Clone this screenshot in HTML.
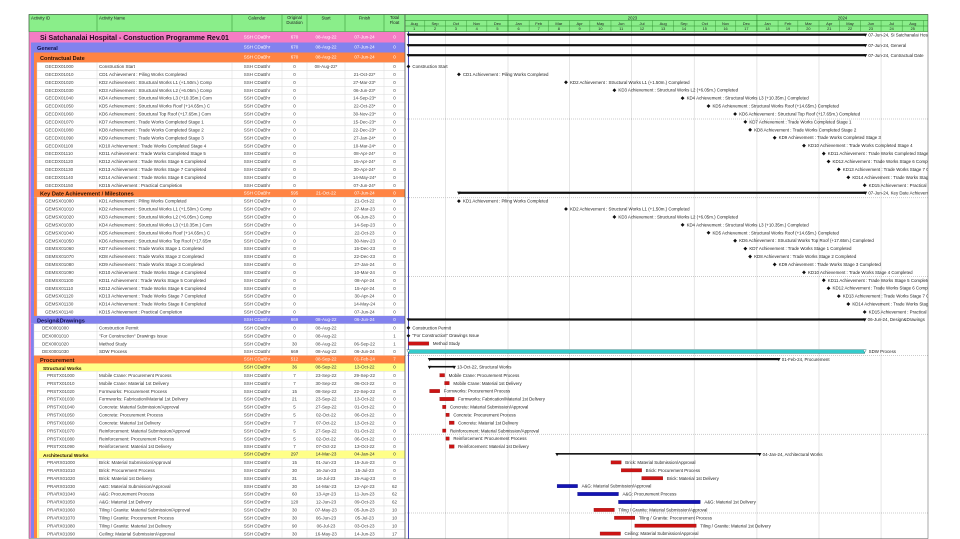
<!DOCTYPE html>
<html><head><meta charset="utf-8"><title>Construction Programme Gantt</title>
<style>
html,body{margin:0;padding:0;background:#fff;}
svg{display:block;font-family:"Liberation Sans",sans-serif;}
</style></head>
<body>
<svg id="chart" width="960" height="539" viewBox="0 0 960 539" xmlns="http://www.w3.org/2000/svg">
<defs><clipPath id="gclip"><rect x="405" y="14" width="523" height="525"/></clipPath></defs>
</svg>
<script>
// ---- data ----
const rowKind = ['T','G','O',
 'M','M','M','M','M','M','M','M','M','M','M','M','M','M','M','M',
 'O','M','M','M','M','M','M','M','M','M','M','M','M','M','M','M',
 'G','M','M','A','S',
 'O','Y','A','A','A','A','A','A','A','A','A','A',
 'Y','A','A','A','A','A','A','A','A','A','A'];
const rowLevel = [0,1,2,
 3,3,3,3,3,3,3,3,3,3,3,3,3,3,3,3,
 2,3,3,3,3,3,3,3,3,3,3,3,3,3,3,3,
 1,2,2,2,2,
 2,3,4,4,4,4,4,4,4,4,4,4,
 3,4,4,4,4,4,4,4,4,4,4];
const rowId = ['','','',
 'GECDX01000','GECDX01010','GECDX01020','GECDX01030','GECDX01040','GECDX01050','GECDX01060','GECDX01070','GECDX01080','GECDX01090','GECDX01100','GECDX01110','GECDX01120','GECDX01130','GECDX01140','GECDX01150',
 '','GEMSX01000','GEMSX01010','GEMSX01020','GEMSX01030','GEMSX01040','GEMSX01050','GEMSX01060','GEMSX01070','GEMSX01080','GEMSX01090','GEMSX01100','GEMSX01110','GEMSX01120','GEMSX01130','GEMSX01140',
 '','DEX0001000','DEX0001010','DEX0001020','DEX0001030',
 '','','PRSTX01000','PRSTX01010','PRSTX01020','PRSTX01030','PRSTX01040','PRSTX01050','PRSTX01060','PRSTX01070','PRSTX01080','PRSTX01090',
 '','PRARX01000','PRARX01010','PRARX01020','PRARX01030','PRARX01040','PRARX01050','PRARX01060','PRARX01070','PRARX01080','PRARX01090'];
const rowName = ['Si Satchanalai Hospital - Constuction Programme Rev.01','General','Contractual Date',
 'Construction Start','CD1 Achievement : Piling Works Completed','KD2 Achievement : Structural Works L1 (+1.50m.) Completed','KD3 Achievement : Structural Works L2 (+6.05m.) Completed','KD4 Achievement : Structural Works L3 (+10.35m.) Completed','KD5 Achievement : Structural Works Roof (+14.65m.) Completed','KD6 Achievement : Structural Top Roof (+17.65m.) Completed','KD7 Achievement : Trade Works Completed Stage 1','KD8 Achievement : Trade Works Completed Stage 2','KD9 Achievement : Trade Works Completed Stage 3','KD10 Achievement : Trade Works Completed Stage 4','KD11 Achievement : Trade Works Completed Stage 5','KD12 Achievement : Trade Works Stage 6 Completed','KD13 Achievement : Trade Works Stage 7 Completed','KD14 Achievement : Trade Works Stage 8 Completed','KD15 Achievement : Practical Completion',
 'Key Date Achievement / Milestones','KD1 Achievement : Piling Works Completed','KD2 Achievement : Structural Works L1 (+1.50m.) Completed','KD3 Achievement : Structural Works L2 (+6.05m.) Completed','KD4 Achievement : Structural Works L3 (+10.35m.) Completed','KD5 Achievement : Structural Works Roof (+14.65m.) Completed','KD6 Achievement : Structural Works Top Roof (+17.65m.) Completed','KD7 Achievement : Trade Works Stage 1 Completed','KD8 Achievement : Trade Works Stage 2 Completed','KD9 Achievement : Trade Works Stage 3 Completed','KD10 Achievement : Trade Works Stage 4 Completed','KD11 Achievement : Trade Works Stage 5 Completed','KD12 Achievement : Trade Works Stage 6 Completed','KD13 Achievement : Trade Works Stage 7 Completed','KD14 Achievement : Trade Works Stage 8 Completed','KD15 Achievement : Practical Completion',
 'Design&Drawings','Construction Permit','"For Construction" Drawings Issue','Method Study','SDW Process',
 'Procurement','Structural Works','Mobile Crane: Procurement Process','Mobile Crane: Material 1st Delivery','Formworks: Procurement Process','Formworks: Fabrication/Material 1st Delivery','Concrete: Material Submission/Approval','Concrete: Procurement Process','Concrete: Material 1st Delivery','Reinforcement: Material Submission/Approval','Reinforcement: Procurement Process','Reinforcement: Material 1st Delivery',
 'Architectural Works','Brick: Material Submission/Approval','Brick: Procurement Process','Brick: Material 1st Delivery','A&G: Material Submission/Approval','A&G: Procurement Process','A&G: Material 1st Delivery','Tiling / Granite: Material Submission/Approval','Tiling / Granite: Procurement Process','Tiling / Granite:  Material 1st Delivery','Ceiling: Material Submission/Approval'];
const rowDur = ['670','670','670',
 '0','0','0','0','0','0','0','0','0','0','0','0','0','0','0','0',
 '595','0','0','0','0','0','0','0','0','0','0','0','0','0','0','0',
 '669','0','0','30','669',
 '512','36','7','7','15','21','5','5','7','5','5','7',
 '297','15','30','31','30','60','120','30','30','90','30'];
const rowStart = ['08-Aug-22','08-Aug-22','08-Aug-22',
 '08-Aug-22*','','','','','','','','','','','','','','','',
 '21-Oct-22','','','','','','','','','','','','','','','',
 '08-Aug-22','08-Aug-22','08-Aug-22','08-Aug-22','08-Aug-22',
 '08-Sep-22','08-Sep-22','23-Sep-22','30-Sep-22','08-Sep-22','23-Sep-22','27-Sep-22','02-Oct-22','07-Oct-22','27-Sep-22','02-Oct-22','07-Oct-22',
 '14-Mar-23','01-Jun-23','16-Jun-23','16-Jul-23','14-Mar-23','13-Apr-23','12-Jun-23','07-May-23','06-Jun-23','06-Jul-23','16-May-23'];
const rowFinish = ['07-Jun-24','07-Jun-24','07-Jun-24',
 '','21-Oct-22*','27-Mar-23*','06-Jun-23*','14-Sep-23*','22-Oct-23*','30-Nov-23*','15-Dec-23*','22-Dec-23*','27-Jan-24*','10-Mar-24*','08-Apr-24*','15-Apr-24*','30-Apr-24*','14-May-24*','07-Jun-24*',
 '07-Jun-24','21-Oct-22','27-Mar-23','06-Jun-23','14-Sep-23','22-Oct-23','30-Nov-23','15-Dec-23','22-Dec-23','27-Jan-24','10-Mar-24','08-Apr-24','15-Apr-24','30-Apr-24','14-May-24','07-Jun-24',
 '06-Jun-24','','','06-Sep-22','06-Jun-24',
 '01-Feb-24','13-Oct-22','29-Sep-22','06-Oct-22','22-Sep-22','13-Oct-22','01-Oct-22','06-Oct-22','13-Oct-22','01-Oct-22','06-Oct-22','13-Oct-22',
 '04-Jan-24','15-Jun-23','15-Jul-23','15-Aug-23','12-Apr-23','11-Jun-23','09-Oct-23','05-Jun-23','05-Jul-23','03-Oct-23','14-Jun-23'];
const rowFloat = ['0','0','0',
 '0','0','0','0','0','0','0','0','0','0','0','0','0','0','0','0',
 '0','0','0','0','0','0','0','0','0','0','0','0','0','0','0','0',
 '0','0','1','1','0',
 '7','0','0','0','0','0','0','0','0','0','0','0',
 '0','0','0','0','62','62','62','10','10','10','17'];
const monthNames = ['Aug','Sep','Oct','Nov','Dec','Jan','Feb','Mar','Apr','May','Jun','Jul','Aug','Sep','Oct','Nov','Dec','Jan','Feb','Mar','Apr','May','Jun','Jul','Aug','Sep'];
const yearLabels = ['2023','2024'];

// ---- geometry helpers ----
const svg = document.getElementById('chart');
const NS = 'http://www.w3.org/2000/svg';
const MON = {Jan:0,Feb:1,Mar:2,Apr:3,May:4,Jun:5,Jul:6,Aug:7,Sep:8,Oct:9,Nov:10,Dec:11};
const T0 = Date.UTC(2023,0,1);
function parseD(s){ s=s.replace('*',''); const p=s.split('-'); return Date.UTC(2000+ +p[2], MON[p[1]], +p[0]); }
function xD(ms){ return 508 + (ms - T0)/86400000*0.682; }
function rowTop(i){ if(i===0) return 32; if(i===1) return 42.5; if(i===2) return 52.5; return 62.5+(i-3)*7.92; }
function rowH(i){ if(i===0) return 10.5; if(i<3) return 10; return 7.92; }
function el(tag, attrs, parent){ const e=document.createElementNS(NS,tag); for(const k in attrs) e.setAttribute(k,attrs[k]); (parent||svg).appendChild(e); return e; }
function txt(x,y,s,attrs,parent){ const e=el('text',Object.assign({x:x,y:y},attrs),parent); e.textContent=s; return e; }

const COL = {T:'#f47cc4',G:'#8282ee',O:'#ff8444',Y:'#ffff88'};
const stripeCols = ['#f47cc4','#8282ee','#ff8444','#ffff88'];
const stripeX = [29,31,34,37,39];

// ---- table header ----
const hdr = el('g',{});


el('rect',{x:29,y:14.5,width:376,height:17,fill:'#8aee8a',stroke:'#2a8a2a','stroke-width':0.6},hdr);
const colLines = [97,232,282,307,345,384];
colLines.forEach(function(cx){ el('line',{x1:cx,y1:14.5,x2:cx,y2:31.5,stroke:'#2a8a2a','stroke-width':0.5},hdr); });
const hs = {'font-size':4.3,fill:'#222'};
txt(31,19.5,'Activity ID',hs,hdr);
txt(99,19.5,'Activity Name',hs,hdr);
txt(257,19.5,'Calendar',Object.assign({'text-anchor':'middle'},hs),hdr);
txt(294.5,19,'Original',Object.assign({'text-anchor':'middle'},hs),hdr);
txt(294.5,24,'Duration',Object.assign({'text-anchor':'middle'},hs),hdr);
txt(326,19.5,'Start',Object.assign({'text-anchor':'middle'},hs),hdr);
txt(364.5,19.5,'Finish',Object.assign({'text-anchor':'middle'},hs),hdr);
txt(394.5,19,'Total',Object.assign({'text-anchor':'middle'},hs),hdr);
txt(394.5,24,'Float',Object.assign({'text-anchor':'middle'},hs),hdr);

// ---- table rows ----
const tbl = el('g',{});


for(let i=0;i<rowKind.length;i++){
  const k=rowKind[i], lv=rowLevel[i], y=rowTop(i), h=rowH(i), cy=y+h/2+1.6;
  const g=el('g',{},tbl);
  
  
  for(let s=0;s<lv;s++){ el('rect',{x:stripeX[s],y:y,width:stripeX[s+1]-stripeX[s],height:h+0.3,fill:stripeCols[s]},g); }
  const sx=stripeX[lv];
  const isSec = (k==='T'||k==='G'||k==='O'||k==='Y');
  el('rect',{x:sx,y:y,width:405-sx,height:h,fill:isSec?COL[k]:'#fff',stroke:isSec?'none':'#d4d4d4','stroke-width':0.4},g);
  if(!isSec){ colLines.forEach(function(cx){ el('line',{x1:cx,y1:y,x2:cx,y2:y+h,stroke:'#d4d4d4','stroke-width':0.4},g); }); }
  let nameFill='#333', valFill='#444';
  if(isSec){ valFill = (k==='Y')?'#333':'#fff'; nameFill = (k==='G')?'#10104a':(k==='T'?'#2a0a20':'#2a1000'); }
  if(k==='T') txt(40,y+8,rowName[i],{'font-size':7,'font-weight':'bold',fill:nameFill},g);
  else if(isSec) txt(sx+6,cy+0.8,rowName[i],{'font-size':k==='Y'?4.8:5.6,'font-weight':'bold',fill:nameFill},g);
  else { txt(sx+8,cy,rowId[i],{'font-size':4.5,fill:'#444'},g); txt(99,cy,rowName[i].length>52?rowName[i].slice(0,52):rowName[i],{'font-size':4.5,fill:'#333'},g); }
  const vy = isSec ? y+h/2+1.2 : cy;
  txt(257,vy,'SSH CDaBhr',{'font-size':4.5,'text-anchor':'middle',fill:valFill},g);
  txt(294.5,vy,rowDur[i],{'font-size':4.5,'text-anchor':'middle',fill:valFill},g);
  txt(326,vy,rowStart[i],{'font-size':4.5,'text-anchor':'middle',fill:valFill},g);
  txt(364.5,vy,rowFinish[i],{'font-size':4.5,'text-anchor':'middle',fill:valFill},g);
  txt(394.5,vy,rowFloat[i],{'font-size':4.5,'text-anchor':'middle',fill:valFill},g);
}
el('rect',{x:29,y:14.5,width:376,height:524,fill:'none',stroke:'#555','stroke-width':0.5});

// ---- timeline header ----
const th = el('g',{'clip-path':'url(#gclip)'});


el('rect',{x:405,y:14.5,width:523,height:17,fill:'#8aee8a',stroke:'#2a8a2a','stroke-width':0.6},th);
el('line',{x1:405,y1:20.5,x2:928,y2:20.5,stroke:'#2a8a2a','stroke-width':0.5},th);
el('line',{x1:405,y1:26,x2:928,y2:26,stroke:'#2a8a2a','stroke-width':0.5},th);
for(let m=0;m<monthNames.length;m++){
  const a=xD(Date.UTC(2022,7+m,1)), b=xD(Date.UTC(2022,8+m,1));
  el('line',{x1:a,y1:20.5,x2:a,y2:31.5,stroke:'#2a8a2a','stroke-width':0.4},th);
  const t1=txt((a+b)/2,25,monthNames[m],{'font-size':4,'text-anchor':'middle',fill:'#222'},th);
  
  
  txt((a+b)/2,30.2,String(m+1),{'font-size':3.8,'text-anchor':'middle',fill:'#222'},th);
}
for(let yI=0;yI<yearLabels.length;yI++){
  const yr=+yearLabels[yI];
  const a=xD(Date.UTC(yr,0,1)), b=Math.min(928,xD(Date.UTC(yr+1,0,1)));
  el('line',{x1:a,y1:14.5,x2:a,y2:31.5,stroke:'#2a8a2a','stroke-width':0.6},th);
  const t2=txt((a+b)/2,19.3,yearLabels[yI],{'font-size':4.2,'text-anchor':'middle',fill:'#222'},th);
  
  
}

// ---- gantt body ----
const gb = el('g',{'clip-path':'url(#gclip)'});


for(let q=0;q<8;q++){
  const qx=xD(Date.UTC(2022,9+q*3,1));
  el('line',{x1:qx,y1:31.5,x2:qx,y2:539,stroke:'#999','stroke-width':0.5,'stroke-dasharray':'1,1'},gb);
}
for(let k=0;k<6;k++){
  const hy=119+78.8*k;
  el('line',{x1:405,y1:hy,x2:928,y2:hy,stroke:'#999','stroke-width':0.5,'stroke-dasharray':'1,1'},gb);
}
const dd=xD(parseD('08-Aug-22'));
const ddl=el('line',{x1:dd,y1:31.5,x2:dd,y2:539,stroke:'#3030b0','stroke-width':0.9},gb);



const LBL={'font-size':4.4,fill:'#222'};
for(let i=0;i<rowKind.length;i++){
  const k=rowKind[i], y=rowTop(i), h=rowH(i), cy=y+h/2;
  const g=el('g',{},gb);
  if(k==='T'||k==='G'||k==='O'||k==='Y'){
    const a=xD(parseD(rowStart[i])), b=xD(parseD(rowFinish[i])+86400000);
    const by = (i<3)? y+1.6 : cy-1.5;
    
    
    el('rect',{x:a,y:by,width:b-a,height:k==='Y'?1.6:2.2,fill:'#111'},g);
    el('path',{d:'M'+(a-1.8)+','+by+'h3.6l-1.8,3.2z',fill:'#111'},g);
    el('path',{d:'M'+(b-1.8)+','+by+'h3.6l-1.8,3.2z',fill:'#111'},g);
    txt(b+3,by+2.8,rowFinish[i]+', '+rowName[i],LBL,g);
  } else if(k==='M'){
    const d=rowFinish[i]?rowFinish[i]:rowStart[i];
    const mx=xD(parseD(d));
    
    
    el('path',{d:'M'+mx+','+(cy-1.9)+'l1.9,1.9l-1.9,1.9l-1.9,-1.9z',fill:'#111'},g);
    txt(mx+4,cy+1.5,rowName[i],LBL,g);
  } else {
    const a=xD(parseD(rowStart[i])), b=xD(parseD(rowFinish[i])+86400000);
    const fl=+rowFloat[i];
    
    
    if(k==='S'){
      el('rect',{x:a,y:cy-1.8,width:b-a,height:3.6,fill:'#33cccc',stroke:'#116666','stroke-width':0.4},g);
      el('path',{d:'M'+(a-1.6)+','+(cy-1.8)+'h3.2l-1.6,2.8z',fill:'#fff',stroke:'#116666','stroke-width':0.4},g);
      el('path',{d:'M'+(b-1.6)+','+(cy-1.8)+'h3.2l-1.6,2.8z',fill:'#fff',stroke:'#116666','stroke-width':0.4},g);
    } else {
      el('rect',{x:a,y:cy-1.8,width:b-a,height:3.4,fill:fl>20?'#1414b4':'#cc1414',stroke:fl>20?'#0a0a70':'#801010','stroke-width':0.3},g);
    }
    txt(b+4,cy+1.5,rowName[i],LBL,g);
  }
}
el('rect',{x:405,y:14.5,width:523,height:524,fill:'none',stroke:'#555','stroke-width':0.5});
</script>
</body></html>
